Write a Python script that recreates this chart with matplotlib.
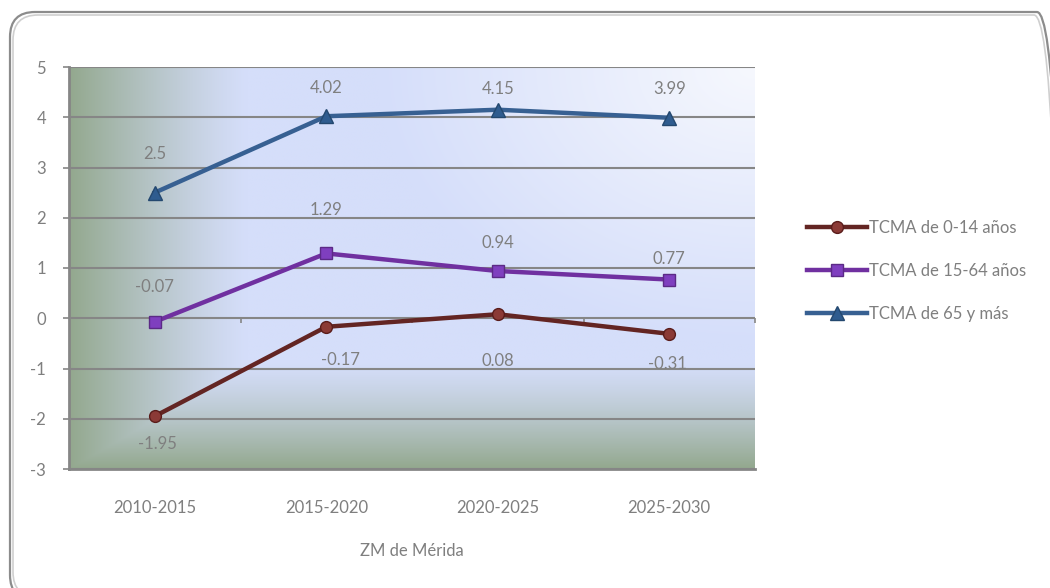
import numpy as np
import matplotlib.pyplot as plt
from matplotlib.patches import FancyBboxPatch

# datos
periodos = ['2010-2015', '2015-2020', '2020-2025', '2025-2030']
tcma_0_14 = [-1.95, -0.17, 0.08, -0.31]
tcma_15_64 = [-0.07, 1.29, 0.94, 0.77]
tcma_65 = [2.5, 4.02, 4.15, 3.99]
etiquetas = ['TCMA de 0-14 años', 'TCMA de 15-64 años', 'TCMA de 65 y más']

plt.rcParams['font.family'] = ['Lato', 'DejaVu Sans']
plt.rcParams['axes.unicode_minus'] = False
gris = '#7f7f7f'
fs = 12

fig = plt.figure(figsize=(10.5, 5.88), dpi=100)
ax = fig.add_axes([69/1050, 1-469/588, (755-69)/1050, (469-67)/588])

# -------------------------------
# fondo con degradado
# -------------------------------
nx, ny = 400, 300
u = np.linspace(0, 1, nx)[None, :]
v = np.linspace(1, 0, ny)[:, None]
verde = np.array([0x93, 0xA8, 0x8E]) / 255
azul = np.array([0xD5, 0xDE, 0xFA]) / 255
blanco = np.array([0xFA, 0xFB, 0xFE]) / 255
gh = np.clip(1 - u / 0.26, 0, 1) ** 1.2
gv = np.clip(1 - v / 0.27, 0, 1) ** 1.3
g = np.maximum(gh, gv)
w = np.clip(1 - np.hypot(1 - u, (1 - v) * 0.8) / 0.55, 0, 1) * 0.9
base = azul[None, None, :] * (1 - w[..., None]) + blanco[None, None, :] * w[..., None]
img = base * (1 - g[..., None]) + verde[None, None, :] * g[..., None]
ax.imshow(img, extent=(0, 4, -3, 5), aspect='auto', zorder=0, interpolation='bilinear')

x = np.arange(len(periodos)) + 0.5
ax.plot(x, tcma_0_14, color='#632523', lw=3.2, marker='o', ms=8.5,
        mfc='#8B3A36', mec='#5A1C1A', mew=1, label=etiquetas[0], zorder=4)
ax.plot(x, tcma_15_64, color='#7030A0', lw=3.2, marker='s', ms=9,
        mfc='#7F3FBF', mec='#5B2A86', mew=1, label=etiquetas[1], zorder=4)
ax.plot(x, tcma_65, color='#376092', lw=3.2, marker='^', ms=10,
        mfc='#2F5C8F', mec='#24486F', mew=1, label=etiquetas[2], zorder=4)

# etiquetas de datos (desplazamiento en puntos)
desp_0_14 = [(2, -20), (10, -24), (0, -34), (-1, -22)]
desp_15_64 = [(0, 25), (0, 31), (0, 20), (0, 15)]
desp_65 = [(0, 28), (0, 20), (0, 15), (0, 21)]
for serie, desp in [(tcma_0_14, desp_0_14), (tcma_15_64, desp_15_64), (tcma_65, desp_65)]:
    for xi, yi, d in zip(x, serie, desp):
        ax.annotate(f'{yi:g}', (xi, yi), xytext=d, textcoords='offset points',
                    ha='center', va='center', fontsize=fs, color=gris, zorder=5)

ax.set_xlim(0, 4)
ax.set_ylim(-3, 5)
ax.set_yticks(range(-3, 6))
ax.set_xticks(x)
ax.set_xticklabels(periodos)
ax.tick_params(axis='x', length=0, pad=22, labelsize=fs, labelcolor=gris)
ax.tick_params(axis='y', length=4.5, width=1.2, color='#868686', pad=12,
               labelsize=fs, labelcolor=gris)
ax.grid(axis='y', color='#868686', lw=1.5, zorder=1)
ax.grid(axis='x', visible=False)
ax.set_axisbelow(True)
for s in ['top', 'right']:
    ax.spines[s].set_visible(False)
for s in ['left', 'bottom']:
    ax.spines[s].set_color('#868686')
    ax.spines[s].set_linewidth(2)
# marcas del eje en cero
ax.vlines([1, 2, 3, 4], -0.1, 0, color='#868686', lw=1.2, zorder=2, clip_on=False)

ax.set_xlabel('ZM de Mérida', fontsize=fs, color=gris, labelpad=20)

leg = ax.legend(loc='center left', bbox_to_anchor=(1.054, 0.4925), frameon=False,
                fontsize=fs, handlelength=3.6, handletextpad=0.12, labelspacing=1.62,
                labelcolor=gris)

# marco redondeado (en pulgadas)
for off, col, lw in [(0, '#8c8c8c', 1.6), (0.03, '#cfcfcf', 1.2)]:
    fig.patches.append(FancyBboxPatch((0.10 + off, -0.12 + off), 10.52 - 2*off, 5.88 - 2*off,
                                      boxstyle='round,pad=0,rounding_size=0.25',
                                      transform=fig.dpi_scale_trans, fill=False,
                                      ec=col, lw=lw))

fig.savefig('out.png', dpi=100)
